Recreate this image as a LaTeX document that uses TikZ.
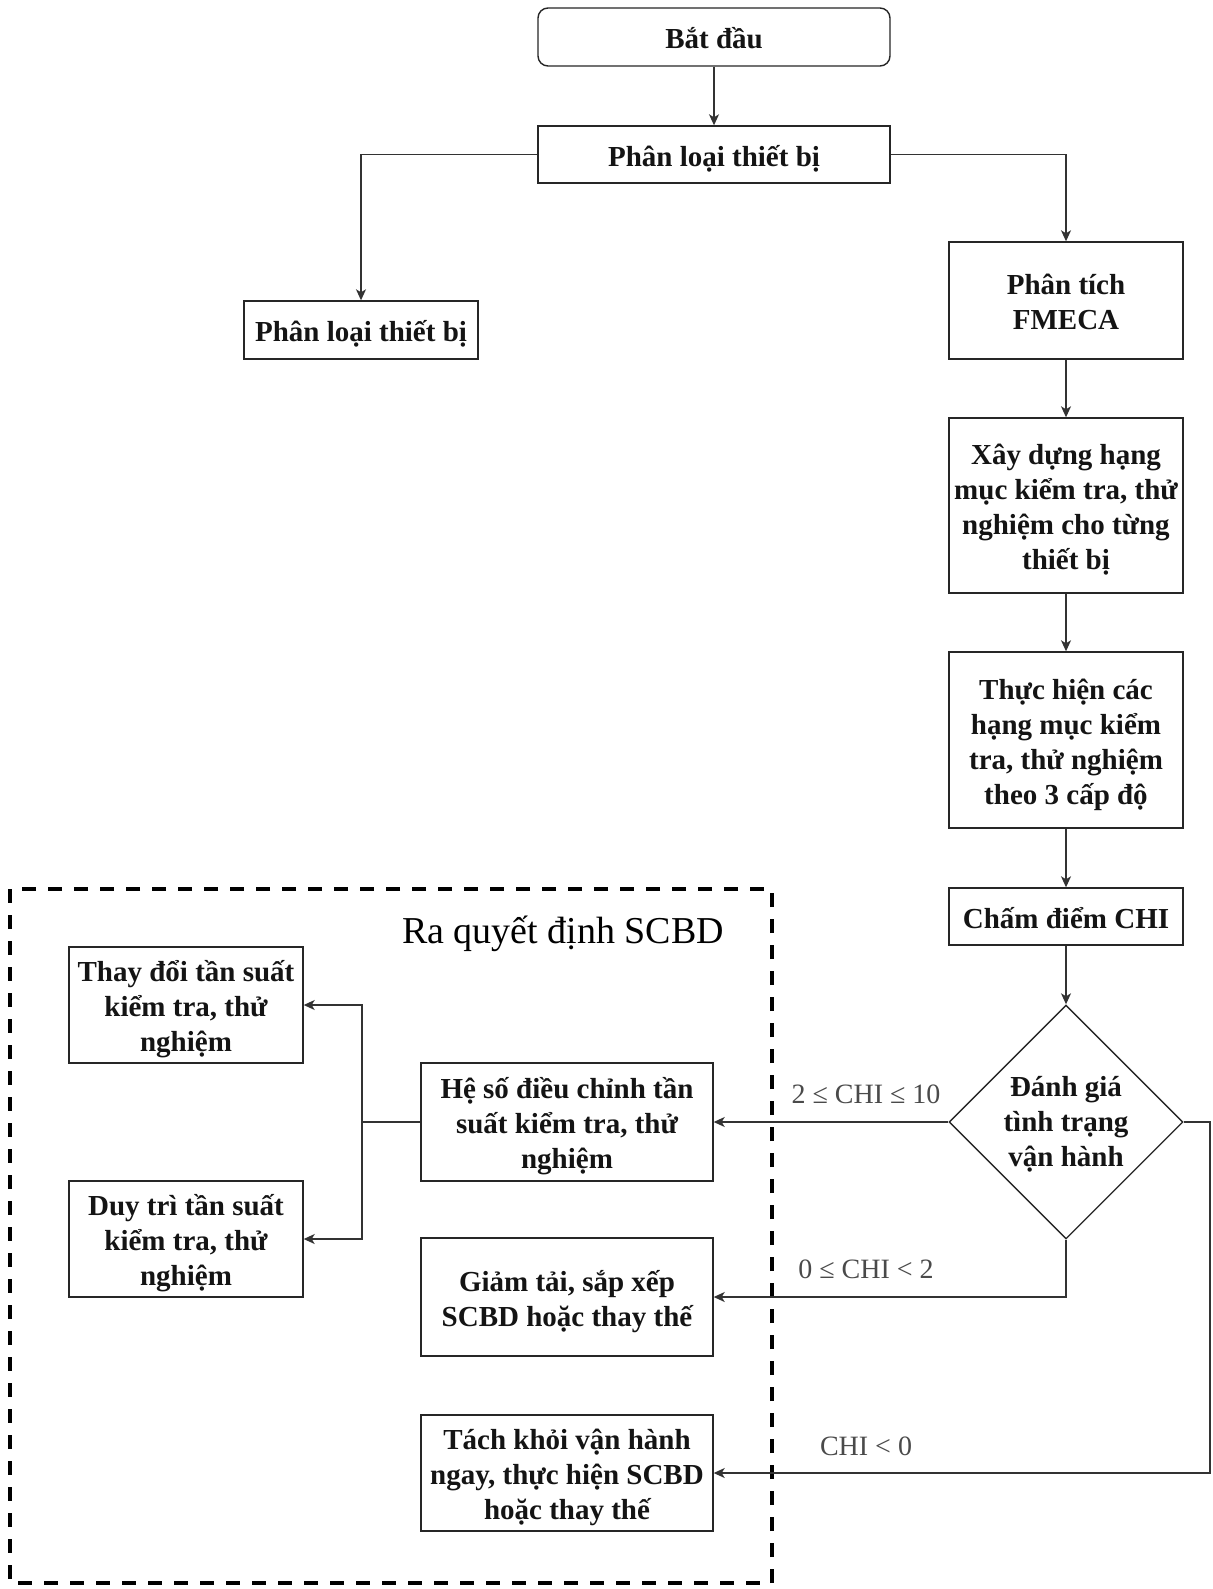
\documentclass[tikz,border=0pt]{standalone}
\usepackage{fontspec}
\setmainfont{Liberation Serif}
\usetikzlibrary{shapes.geometric,arrows.meta}
\definecolor{edgegray}{HTML}{333333}
\definecolor{labelgray}{HTML}{4A4A4A}
% line struts: fixed height for the first text line, fixed depth for the last
\newcommand{\topstrut}{\rule{0pt}{31.4pt}}
\newcommand{\botstrut}{\rule[-7.6pt]{0pt}{7.6pt}}
\newcommand{\diastrut}{\rule[-7.6pt]{0pt}{34.8pt}}
\begin{document}
\begin{tikzpicture}[x=1pt,y=-1pt,
  boxtext/.style={align=center, inner sep=0pt, text=black!92,
    font=\fontsize{29}{35}\selectfont\bfseries},
  box/.style={boxtext, draw=black!85, line width=1.4pt, fill=white},
  stdbox/.style={box, minimum width=234pt},
  widebox/.style={box, minimum width=292pt},
  decision/.style={diamond, draw=black!85, line width=1.4pt, fill=white,
    minimum width=234pt, minimum height=234pt, inner sep=0pt},
  arr/.style={draw=edgegray, line width=1.3pt,
    -{Stealth[length=11pt,width=10pt,inset=3pt]}},
  link/.style={draw=edgegray, line width=1.3pt},
  lbl/.style={text=labelgray, font=\fontsize{28}{32}\selectfont, inner sep=0pt},
  frame/.style={line width=3.5pt, dash pattern=on 14pt off 12pt}
]
\useasboundingbox (0,0) rectangle (1212,1589);

% decision area frame
\draw[frame] (10,889) rectangle (772,1583);
\node[font=\fontsize{38}{42}\selectfont, inner sep=0pt] (title) at (563,934) {Ra quyết định SCBD};

% main column
\node[box, minimum width=352pt, minimum height=58pt, rounded corners=10pt] (start) at (714,37) {\topstrut Bắt đầu\botstrut};
\node[box, minimum width=352pt, minimum height=57pt] (classify) at (714,154.5) {\topstrut Phân loại thiết bị\botstrut};
\node[stdbox, minimum height=58pt] (classL) at (361,330) {\topstrut Phân loại thiết bị\botstrut};
\node[stdbox, minimum height=117pt] (fmeca) at (1066,300.5) {\topstrut Phân tích\\FMECA\botstrut};
\node[stdbox, minimum height=175pt] (build) at (1066,505.5) {\topstrut Xây dựng hạng\\mục kiểm tra, thử\\nghiệm cho từng\\thiết bị\botstrut};
\node[stdbox, minimum height=176pt] (exec) at (1066,740) {\topstrut Thực hiện các\\hạng mục kiểm\\tra, thử nghiệm\\theo 3 cấp độ\botstrut};
\node[stdbox, minimum height=57pt] (score) at (1066,916.5) {\topstrut Chấm điểm CHI\botstrut};
\node[decision] (eval) at (1066,1122) {};
\node[boxtext] (evaltext) at (eval) {\diastrut Đánh giá\\tình trạng\\vận hành\diastrut};

% outcomes
\node[widebox, minimum height=118pt] (adjust) at (567,1122) {\topstrut Hệ số điều chỉnh tần\\suất kiểm tra, thử\\nghiệm\botstrut};
\node[widebox, minimum height=118pt] (reduce) at (567,1297) {\topstrut Giảm tải, sắp xếp\\SCBD hoặc thay thế\botstrut};
\node[widebox, minimum height=116pt] (isolate) at (567,1473) {\topstrut Tách khỏi vận hành\\ngay, thực hiện SCBD\\hoặc thay thế\botstrut};
\node[stdbox, minimum height=116pt] (change) at (186,1005) {\topstrut Thay đổi tần suất\\kiểm tra, thử\\nghiệm\botstrut};
\node[stdbox, minimum height=116pt] (keep) at (186,1239) {\topstrut Duy trì tần suất\\kiểm tra, thử\\nghiệm\botstrut};

% connectors
\draw[arr] (start) -- (classify);
\draw[arr] (classify.west) -| (classL.north);
\draw[arr] (classify.east) -| (fmeca.north);
\draw[arr] (fmeca) -- (build);
\draw[arr] (build) -- (exec);
\draw[arr] (exec) -- (score);
\draw[arr] (score) -- (eval.north);
\draw[arr] (eval.west) -- (adjust.east);
\draw[arr] (eval.south) |- (reduce.east);
\coordinate (rightturn) at (1210,1122);
\draw[arr] (eval.east) -- (rightturn) |- (isolate.east);
\coordinate (split) at (362,1122);
\draw[link] (adjust.west) -- (split);
\draw[arr] (split) |- (change.east);
\draw[arr] (split) |- (keep.east);

% condition labels
\node[lbl] (c1) at (866,1094) {2 ≤ CHI ≤ 10};
\node[lbl] (c2) at (866,1269) {0 ≤ CHI < 2};
\node[lbl] (c3) at (866,1446) {CHI < 0};
\end{tikzpicture}
\end{document}
